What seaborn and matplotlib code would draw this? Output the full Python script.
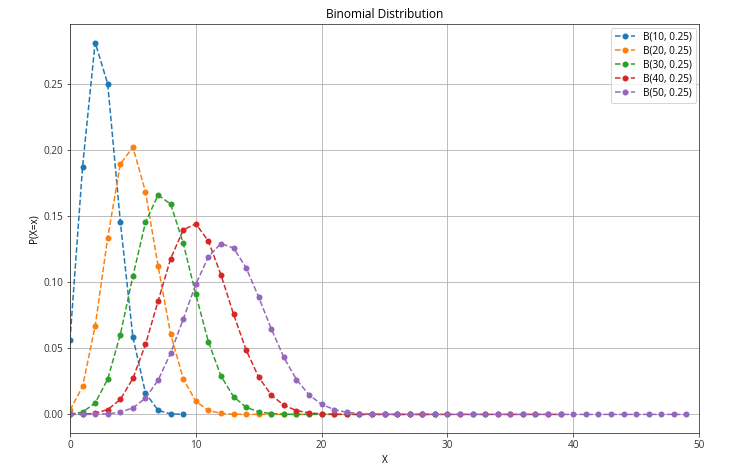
import matplotlib
matplotlib.use("Agg")
import matplotlib.pyplot as plt
import seaborn as sns
import pandas as pd

labels = ["B(10, 0.25)", "B(20, 0.25)", "B(30, 0.25)", "B(40, 0.25)", "B(50, 0.25)"]

p10 = [0.056314, 0.187712, 0.281568, 0.250282, 0.145998, 0.058399, 0.016222, 0.003090, 0.000386, 0.0000286]
p20 = [0.0031712, 0.021141, 0.066947, 0.133895, 0.189685, 0.202331, 0.168609, 0.112406, 0.060887, 0.027061,
       0.009922, 0.003007, 0.000752, 0.000154, 0.0000257, 0.0000034, 0.00000036, 0.00000003, 0.0, 0.0]
p30 = [0.000179, 0.001785, 0.008627, 0.026840, 0.060390, 0.104676, 0.145384, 0.166153, 0.159230, 0.129743,
       0.090820, 0.055042, 0.029050, 0.013408, 0.005427, 0.001930, 0.000603, 0.000166, 0.0000399, 0.0000084,
       0.0000015, 0.00000024, 0.00000003, 0.0, 0.0, 0.0, 0.0, 0.0, 0.0, 0.0]
p40 = [0.0000101, 0.000134, 0.000872, 0.003680, 0.011347, 0.027232, 0.052952, 0.085731, 0.117880, 0.139710,
       0.144367, 0.131243, 0.105723, 0.075904, 0.048796, 0.028193, 0.014684, 0.006910, 0.002943, 0.001136,
       0.000398, 0.000126, 0.0000363, 0.0000095, 0.0000022, 0.00000048, 0.0, 0.0, 0.0, 0.0,
       0.0, 0.0, 0.0, 0.0, 0.0, 0.0, 0.0, 0.0, 0.0, 0.0]
p50 = [0.00000057, 0.0000094, 0.0000771, 0.000411, 0.001610, 0.004938, 0.012345, 0.025865, 0.046341, 0.072086,
       0.098518, 0.119416, 0.129367, 0.126050, 0.111044, 0.088835, 0.064776, 0.043184, 0.026390, 0.014815,
       0.007655, 0.003645, 0.001602, 0.000650, 0.000244, 0.0000845, 0.0000271, 0.0000080, 0.0000022, 0.00000056,
       0.0, 0.0, 0.0, 0.0, 0.0, 0.0, 0.0, 0.0, 0.0, 0.0,
       0.0, 0.0, 0.0, 0.0, 0.0, 0.0, 0.0, 0.0, 0.0, 0.0]

series = [p10, p20, p30, p40, p50]
colors = ["#1f77b4", "#ff7f0e", "#2ca02c", "#d62728", "#9467bd"]

plt.rcParams["font.family"] = ["Open Sans", "DejaVu Sans"]

DPI = 72
fig = plt.figure(figsize=(743 / DPI, 470 / DPI), dpi=DPI)
ax = fig.add_axes([70 / 743, 1 - 433 / 470, (699 - 70) / 743, (433 - 24) / 470])

for lab, vals, col in zip(labels, series, colors):
    df = pd.DataFrame({"x": list(range(len(vals))), "p": vals})
    sns.lineplot(data=df, x="x", y="p", ax=ax, color=col, marker="o", linestyle="--",
                 markersize=6, markeredgewidth=0, linewidth=1.5, label=lab)

ax.set_xlim(0, 50)
ax.set_xticks([0, 10, 20, 30, 40, 50])
ax.set_yticks([0.0, 0.05, 0.10, 0.15, 0.20, 0.25])
ax.set_yticklabels(["0.00", "0.05", "0.10", "0.15", "0.20", "0.25"])
ax.grid(True, color="#b0b0b0", linewidth=0.8)
ax.set_axisbelow(True)
for s in ax.spines.values():
    s.set_color("#333333")
ax.tick_params(colors="#333333", labelsize=10)
ax.set_title("Binomial Distribution", fontsize=12)
ax.set_xlabel("X", fontsize=10)
ax.set_ylabel("P(X=x)", fontsize=10)
ax.legend(loc="upper right", fontsize=10, labelspacing=0.3, borderaxespad=0.35)

fig.savefig("out.png", dpi=DPI)
